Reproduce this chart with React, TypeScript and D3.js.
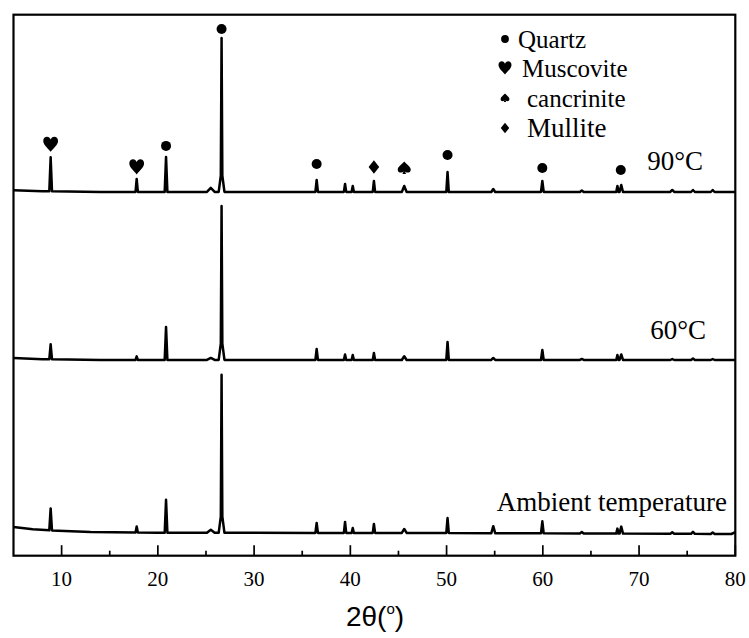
import React from 'react';
import * as d3 from 'd3';

const W = 749;
const H = 638;

const xTicks = [10, 20, 30, 40, 50, 60, 70, 80];
const xMinorTicks = [15, 25, 35, 45, 55, 65, 75];

// Peak list (2θ, degrees) shared by all three patterns; 26.62 appears twice (sharp apex + broad foot)
const peakAngles = [8.86, 17.8, 20.85, 25.5, 26.62, 26.62, 36.5, 39.45, 40.25, 42.45, 45.6, 50.1, 54.85, 59.95, 64.05, 67.75, 68.15, 73.45, 75.6, 77.65];
const peakHalfWidths = [0.14, 0.12, 0.14, 0.4, 0.08, 0.3, 0.13, 0.12, 0.12, 0.12, 0.25, 0.13, 0.2, 0.14, 0.2, 0.12, 0.18, 0.2, 0.2, 0.2];

// Peak heights above baseline (a.u.)
const heights90 = [34, 13, 35, 4, 132, 22, 12, 8, 6, 11, 6, 20, 3, 11, 1.5, 6, 7, 2, 2, 2];
const heights60 = [15, 3.5, 33, 2, 132, 22, 11, 5.5, 5, 7, 3.7, 18, 2, 10, 1, 5, 5.5, 1, 1.5, 1];
const heightsAmb = [22, 6, 33, 3, 136, 22, 10, 11, 5, 9, 4, 15, 7, 12, 1.5, 5, 7, 1.5, 2, 1.5];

// Baselines (2θ, a.u.)
const baseAngles90 = [5, 8, 14, 80];
const baseValues90 = [365.4, 364.5, 363.8, 363.7];
const baseAngles60 = [5, 8, 14, 80];
const baseValues60 = [197.7, 196.5, 195.8, 195.7];
const baseAnglesAmb = [5, 7, 9, 13, 20, 50, 79.6, 80];
const baseValuesAmb = [28.7, 26.5, 25.2, 23.7, 22.9, 22.7, 21.7, 23.5];

const seriesLabels = ['90°C', '60°C', 'Ambient temperature'];

// Phase markers on the 90°C pattern: angle, phase, level (a.u. above the 90°C baseline)
const markerAngles = [8.86, 17.8, 20.85, 26.62, 36.5, 42.45, 45.6, 50.1, 59.95, 68.1];
const markerPhases = ['Muscovite', 'Muscovite', 'Quartz', 'Quartz', 'Quartz', 'Mullite', 'cancrinite', 'Quartz', 'Quartz', 'Quartz'];
const markerLevels = [47, 25, 46, 163, 28, 25, 24, 37, 24, 22];

const legendPhases = ['Quartz', 'Muscovite', 'cancrinite', 'Mullite'];

const HEART = 'M0,7.5 C-2,4.8 -7.4,0.6 -7.4,-3.3 C-7.4,-6.3 -5.5,-7.6 -3.7,-7.6 C-1.9,-7.6 -0.6,-6.4 0,-4.9 C0.6,-6.4 1.9,-7.6 3.7,-7.6 C5.5,-7.6 7.4,-6.3 7.4,-3.3 C7.4,0.6 2,4.8 0,7.5 Z';
const SPADE = 'M0,-6.5 C-2.2,-3.8 -6.5,-1.3 -6.5,1.7 C-6.5,3.6 -5,4.6 -3.4,4.6 C-2.1,4.6 -1,3.9 -0.5,3 L-1.8,6 L1.8,6 L0.5,3 C1,3.9 2.1,4.6 3.4,4.6 C5,4.6 6.5,3.6 6.5,1.7 C6.5,-1.3 2.2,-3.8 0,-6.5 Z';
const DIAMOND = 'M0,-6.7 L5.3,0 L0,6.7 L-5.3,0 Z';

function symbolPath(phase: string) {
  if (phase === 'Quartz') return d3.symbol(d3.symbolCircle, Math.PI * 25)() as string;
  if (phase === 'Mullite') return DIAMOND;
  return phase === 'Muscovite' ? HEART : SPADE;
}

function buildTrace(baseX: number[], baseY: number[], heights: number[]) {
  const base = d3.scaleLinear().domain(baseX).range(baseY);
  const bps = new Set<number>(baseX);
  peakAngles.forEach((a, i) => {
    bps.add(+(a - peakHalfWidths[i]).toFixed(3));
    bps.add(a);
    bps.add(+(a + peakHalfWidths[i]).toFixed(3));
  });
  const xs = Array.from(bps).filter((x) => x >= 5 && x <= 80).sort((a, b) => a - b);
  return xs.map((x) => {
    let v = base(x);
    peakAngles.forEach((a, i) => {
      const t = 1 - Math.abs(x - a) / peakHalfWidths[i];
      if (t > 0) v += heights[i] * t;
    });
    return [x, v] as [number, number];
  });
}

export default function App() {
  const left = 13.5;
  const right = 735.3;
  const top = 14.7;
  const bottom = 555.7;

  const x = d3.scaleLinear().domain([5, 80]).range([left, right]);
  const y = d3.scaleLinear().domain([0, 541]).range([bottom, top]);

  const traces = [
    buildTrace(baseAngles90, baseValues90, heights90),
    buildTrace(baseAngles60, baseValues60, heights60),
    buildTrace(baseAnglesAmb, baseValuesAmb, heightsAmb),
  ];
  const line = d3
    .line<[number, number]>()
    .x((d) => x(d[0]))
    .y((d) => y(d[1]));

  const base90 = d3.scaleLinear().domain(baseAngles90).range(baseValues90);

  const labelPos = [
    { x: 703, y: 170 },
    { x: 706, y: 339 },
    { x: 727, y: 511 },
  ];

  const legendY = [39, 68, 98, 128];
  const legendFont = [25, 25, 25, 27];
  const legendScale = [0.78, 0.88, 0.68, 0.8];
  const legendTextX = [518, 522, 527, 527];

  const serif = "'Liberation Serif', 'Times New Roman', serif";

  return (
    <svg width={W} height={H} style={{ display: 'block', position: 'absolute', left: 0, top: 0 }}>
      <rect width={W} height={H} fill="#fff" />
      <clipPath id="plot">
        <rect x={left} y={top} width={right - left} height={bottom - top} />
      </clipPath>
      {traces.map((t, i) => (
        <path key={i} d={line(t) as string} fill="none" stroke="#000" strokeWidth={2.5} strokeLinejoin="round" clipPath="url(#plot)" />
      ))}

      {markerAngles.map((a, i) => (
        <path
          key={i}
          d={symbolPath(markerPhases[i])}
          transform={`translate(${x(a)},${y(base90(a) + markerLevels[i])})`}
          fill="#000"
        />
      ))}

      {legendPhases.map((ph, i) => (
        <g key={ph}>
          <path d={symbolPath(ph)} transform={`translate(505,${legendY[i]}) scale(${legendScale[i]})`} fill="#000" />
          <text x={legendTextX[i]} y={legendY[i] + 8.5} fontFamily={serif} fontSize={legendFont[i]} fill="#000">
            {ph}
          </text>
        </g>
      ))}

      {seriesLabels.map((s, i) => (
        <text key={s} x={labelPos[i].x} y={labelPos[i].y} textAnchor="end" fontFamily={serif} fontSize={27} fill="#000">
          {s}
        </text>
      ))}

      <rect x={left} y={top} width={right - left} height={bottom - top} fill="none" stroke="#000" strokeWidth={2.2} />

      {xTicks.map((t) => (
        <g key={t}>
          <line x1={x(t)} x2={x(t)} y1={bottom} y2={bottom - 10.5} stroke="#000" strokeWidth={1.7} />
          <text x={x(t)} y={bottom + 30} textAnchor="middle" fontFamily={serif} fontSize={21} fill="#000">
            {t}
          </text>
        </g>
      ))}
      {xMinorTicks.map((t) => (
        <line key={t} x1={x(t)} x2={x(t)} y1={bottom} y2={bottom - 5} stroke="#000" strokeWidth={1.7} />
      ))}

      <text x={375} y={626} textAnchor="middle" fontFamily="'Liberation Sans', Arial, sans-serif" fontSize={28} fill="#000">
        2θ(<tspan fontSize={15} dy={-12}>o</tspan>
        <tspan dy={12}>)</tspan>
      </text>
    </svg>
  );
}
